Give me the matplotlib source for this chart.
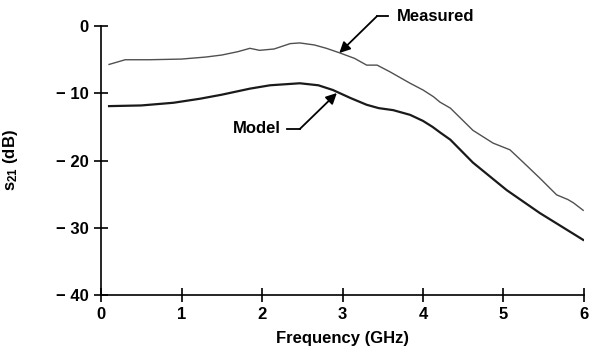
import matplotlib.pyplot as plt

freq_meas = [0.1, 0.3, 0.6, 1.0, 1.3, 1.5, 1.7, 1.85, 1.97, 2.15, 2.35, 2.47, 2.65, 2.8, 2.97, 3.15, 3.3, 3.43, 3.59, 3.84, 4.0, 4.13, 4.21, 4.34, 4.62, 4.87, 5.08, 5.24, 5.45, 5.66, 5.8, 5.87, 5.99]
s21_meas = [-5.7, -5.0, -5.0, -4.9, -4.6, -4.3, -3.8, -3.3, -3.6, -3.4, -2.6, -2.5, -2.8, -3.3, -4.0, -4.8, -5.8, -5.8, -6.8, -8.5, -9.5, -10.5, -11.3, -12.2, -15.5, -17.4, -18.4, -20.2, -22.6, -25.1, -25.8, -26.3, -27.4]

freq_model = [0.1, 0.5, 0.9, 1.23, 1.5, 1.85, 2.1, 2.47, 2.7, 2.88, 3.1, 3.3, 3.45, 3.63, 3.84, 4.0, 4.12, 4.21, 4.34, 4.62, 5.04, 5.45, 5.99]
s21_model = [-11.9, -11.8, -11.4, -10.8, -10.2, -9.3, -8.8, -8.5, -8.8, -9.5, -10.7, -11.7, -12.2, -12.5, -13.2, -14.1, -15.0, -15.8, -16.9, -20.3, -24.4, -27.8, -31.8]

x_ticks = [0, 1, 2, 3, 4, 5, 6]
y_ticks = [0, -10, -20, -30, -40]
y_labels = ['0', '\u2212 10', '\u2212 20', '\u2212 30', '\u2212 40']

plt.rcParams['font.family'] = ['Liberation Sans Narrow', 'Liberation Sans', 'DejaVu Sans']
plt.rcParams['font.weight'] = 'bold'

fig = plt.figure(figsize=(5.89, 3.58), dpi=100)
ax = fig.add_axes([0.1715, 0.176, 0.82, 0.751])

ax.plot(freq_meas, s21_meas, color='#505050', lw=1.0)
ax.plot(freq_model, s21_model, color='#1a1a1a', lw=1.6)

ax.set_xlim(0, 6)
ax.set_ylim(-40, 0)
ax.set_xticks(x_ticks)
ax.set_yticks(y_ticks)
ax.set_yticklabels(y_labels)
ax.spines['top'].set_visible(False)
ax.spines['right'].set_visible(False)
ax.tick_params(direction='inout', length=10, width=1.2, labelsize=12, pad=4)
for s in ('left', 'bottom'):
    ax.spines[s].set_linewidth(1.2)

ax.set_xlabel('Frequency (GHz)', fontsize=12, fontweight='bold', labelpad=6)
ax.set_ylabel(r'$\mathregular{s_{21}}$ (dB)', fontsize=12, fontweight='bold', labelpad=26)

arrow = dict(arrowstyle='-|>', color='black', lw=1.3, mutation_scale=16,
             shrinkA=0, shrinkB=0)

ax.annotate('', xy=(2.96, -4.0), xytext=(3.43, 1.5), arrowprops=arrow,
            annotation_clip=False)
ax.plot([3.43, 3.57], [1.5, 1.5], color='black', lw=1.3, clip_on=False)
ax.text(3.68, 1.5, 'Measured', fontsize=12, fontweight='bold', va='center', ha='left')

ax.annotate('', xy=(2.93, -9.95), xytext=(2.47, -15.3), arrowprops=arrow)
ax.plot([2.31, 2.47], [-15.3, -15.3], color='black', lw=1.3)
ax.text(2.23, -15.3, 'Model', fontsize=12, fontweight='bold', va='center', ha='right')

fig.savefig('out.png', dpi=100)
